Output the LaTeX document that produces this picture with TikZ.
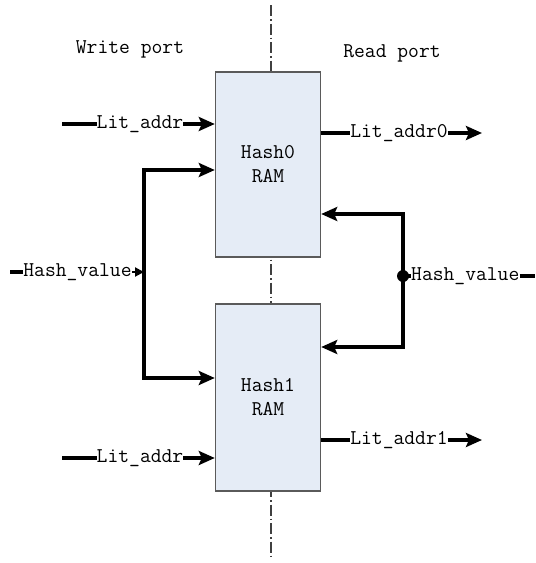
\documentclass[tikz,border=0pt]{standalone}
\usepackage{fontspec}
\usetikzlibrary{arrows.meta}
\definecolor{ramfill}{HTML}{E5ECF6}
\definecolor{ramedge}{HTML}{5A5A5A}
\tikzset{
  ram/.style={draw=ramedge, line width=1.4pt, fill=ramfill, minimum width=105pt, inner sep=0pt},
  lbl/.style={inner sep=0pt, font=\ttfamily\fontsize{21}{24}\selectfont},
  bus/.style={line width=3.6pt, line cap=butt},
  busarrow/.style={bus, -{Stealth[length=16pt, width=14pt, inset=3pt]}},
  tinyarrow/.style={bus, line width=2pt, -{Triangle[length=9pt, width=9pt]}},
  axis/.style={draw=black!75, line width=1.1pt, dash pattern=on 11pt off 3pt on 1.5pt off 3pt}
}
\begin{document}
\begin{tikzpicture}[x=1pt, y=-1pt]
  \useasboundingbox (0,0) rectangle (536,563);

  % centre line between write and read sides
  \coordinate (ct) at (271,5);
  \coordinate (cb) at (271,560);
  \draw[axis] (ct) -- (cb);

  % RAM blocks
  \node[ram, minimum height=185pt] (h0) at (268,164.5) {};
  \node[ram, minimum height=187pt] (h1) at (268,397.5) {};
  \node[lbl, align=center] (h0t) at (268,164) {Hash0\\RAM};
  \node[lbl, align=center] (h1t) at (268,397) {Hash1\\RAM};

  % side captions
  \node[lbl] (wp) at (130,49) {Write port};
  \node[lbl] (rp) at (392,53) {Read port};

  % write side: addresses
  \coordinate (wa0) at (62,124);
  \node[lbl] (la0) at (140,124) {Lit\_addr};
  \draw[bus] (wa0) -- (la0.west);
  \draw[busarrow] (la0.east) -- (la0.east -| h0.west);

  \coordinate (wa1) at (62,458);
  \node[lbl] (la1) at (140,458) {Lit\_addr};
  \draw[bus] (wa1) -- (la1.west);
  \draw[busarrow] (la1.east) -- (la1.east -| h1.west);

  % write side: hash value fan-out
  \coordinate (hvw) at (10,272);
  \node[lbl] (lhvw) at (77.5,272) {Hash\_value};
  \coordinate (jw) at (144,272);
  \coordinate (jwt) at (144,170);
  \coordinate (jwb) at (144,378);
  \draw[bus] (hvw) -- (lhvw.west);
  \draw[tinyarrow] (lhvw.east) -- (jw);
  \draw[bus] (jwt) -- (jwb);
  \draw[busarrow] ([xshift=-1.8pt]jwt) -- (jwt -| h0.west);
  \draw[busarrow] ([xshift=-1.8pt]jwb) -- (jwb -| h1.west);

  % read side: data outputs
  \node[lbl] (lo0) at (399,133) {Lit\_addr0};
  \draw[bus] (lo0.west -| h0.east) -- (lo0.west);
  \coordinate (o0) at (482,133);
  \draw[busarrow] (lo0.east) -- (o0);

  \node[lbl] (lo1) at (399,440) {Lit\_addr1};
  \draw[bus] (lo1.west -| h1.east) -- (lo1.west);
  \coordinate (o1) at (482,440);
  \draw[busarrow] (lo1.east) -- (o1);

  % read side: hash value fan-out
  \coordinate (jr) at (403,276);
  \coordinate (jrt) at (403,214);
  \coordinate (jrb) at (403,347);
  \node[lbl, anchor=west] (lhvr) at (411,276) {Hash\_value};
  \coordinate (hvr) at (535,276);
  \draw[bus] (lhvr.east) -- (hvr);
  \draw[bus] (jr) -- (lhvr.west);
  \draw[bus] ([yshift=-1.8pt]jrt) -- ([yshift=1.8pt]jrb);
  \draw[busarrow] ([xshift=1.8pt]jrt) -- (jrt -| h0.east);
  \draw[busarrow] ([xshift=1.8pt]jrb) -- (jrb -| h1.east);
  \fill (jr) circle (6pt);
\end{tikzpicture}
\end{document}
